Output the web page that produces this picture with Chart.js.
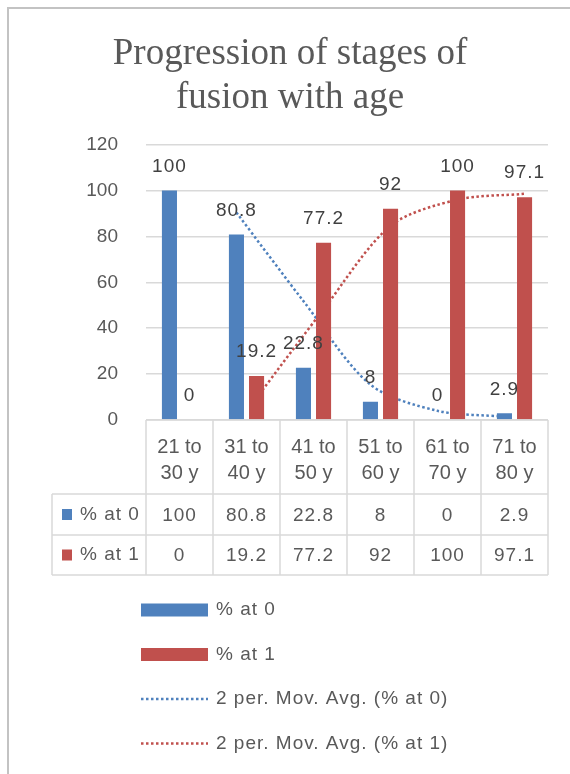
<!DOCTYPE html>
<html><head><meta charset="utf-8">
<script src="https://cdn.jsdelivr.net/npm/chart.js@4.4.0/dist/chart.umd.min.js"></script>
<style>html,body{margin:0;padding:0;background:#fff}canvas{display:block}</style>
</head><body>
<canvas id="c" width="570" height="774"></canvas>
<script>
// ---- data ----
const categories = ['21 to 30 y', '31 to 40 y', '41 to 50 y', '51 to 60 y', '61 to 70 y', '71 to 80 y'];
const seriesNames = ['% at 0', '% at 1'];
const pctAt0 = [100, 80.8, 22.8, 8, 0, 2.9];
const pctAt1 = [0, 19.2, 77.2, 92, 100, 97.1];
const movAvgNames = ['2 per. Mov. Avg. (% at 0)', '2 per. Mov. Avg. (% at 1)'];
const movAvg0 = [null, 90.4, 51.8, 15.4, 4, 1.45];
const movAvg1 = [null, 9.6, 48.2, 84.6, 96, 98.55];
const yTicks = [0, 20, 40, 60, 80, 100, 120];
const titleLines = ['Progression of stages of', 'fusion with age'];

// ---- styles ----
const BLUE = '#4F81BD', RED = '#C0504D';
const SANS = "'Liberation Sans', Arial, sans-serif";
const TEXT = '#595959', LABEL = '#404040', GRID = '#d9d9d9';

const alignPlugin = {
  id: 'alignLines',
  afterDatasetsUpdate(chart) {
    [[2, 0], [3, 1]].forEach(([li, bi]) => {
      const lm = chart.getDatasetMeta(li), bm = chart.getDatasetMeta(bi);
      lm.data.forEach((p, i) => { p.x = bm.data[i].x; });
      lm.dataset.points = lm.data;
      lm.dataset.updateControlPoints(chart.chartArea, 'x');
    });
  }
};

const decorPlugin = {
  id: 'decor',
  beforeDraw(chart) {
    const ctx = chart.ctx;
    ctx.save();
    ctx.fillStyle = '#fff';
    ctx.fillRect(0, 0, chart.width, chart.height);
    ctx.strokeStyle = '#c3c3c3';
    ctx.lineWidth = 2;
    ctx.beginPath();
    ctx.moveTo(8, chart.height); ctx.lineTo(8, 8); ctx.lineTo(chart.width, 8);
    ctx.stroke();
    ctx.restore();
  },
  afterDatasetsDraw(chart) {
    const ctx = chart.ctx;
    ctx.save();
    ctx.font = '19px ' + SANS;
    ctx.fillStyle = LABEL;
    ctx.textAlign = 'center';
    ctx.textBaseline = 'middle';
    try { ctx.letterSpacing = '1px'; } catch (e) {}
    [0, 1].forEach(di => {
      const meta = chart.getDatasetMeta(di);
      const vals = chart.data.datasets[di].data;
      meta.data.forEach((el, i) => {
        ctx.fillText(String(vals[i]), el.x, el.y - 24);
      });
    });
    ctx.restore();
  },
  afterDraw(chart) {
    const ctx = chart.ctx, a = chart.chartArea, x = chart.scales.x;
    const n = categories.length, w = (x.right - x.left) / n;
    const top = a.bottom, r0 = top + 74, r1 = r0 + 41, r2 = r1 + 40, keyLeft = 52;
    ctx.save();
    // table grid
    ctx.strokeStyle = GRID; ctx.lineWidth = 1.5;
    ctx.beginPath();
    ctx.moveTo(x.left, top); ctx.lineTo(x.right, top);
    [r0, r1, r2].forEach(y => { ctx.moveTo(keyLeft, y); ctx.lineTo(x.right, y); });
    for (let i = 0; i <= n; i++) { const xx = x.left + i * w; ctx.moveTo(xx, top); ctx.lineTo(xx, r2); }
    ctx.moveTo(keyLeft, r0); ctx.lineTo(keyLeft, r2);
    ctx.stroke();
    // table rows
    ctx.font = '19px ' + SANS;
    ctx.textBaseline = 'middle';
    try { ctx.letterSpacing = '1px'; } catch (e) {}
    const rows = [[r0, r1], [r1, r2]];
    rows.forEach(([ya, yb], ri) => {
      const ds = chart.data.datasets[ri];
      const yc = (ya + yb) / 2;
      ctx.fillStyle = ds.backgroundColor;
      ctx.fillRect(keyLeft + 10, yc - 5.5, 10, 11);
      ctx.fillStyle = TEXT;
      ctx.textAlign = 'left';
      ctx.fillText(ds.label, keyLeft + 28, yc);
      ctx.textAlign = 'center';
      ds.data.forEach((v, i) => ctx.fillText(String(v), x.getPixelForTick(i), yc + 1));
    });
    // legend
    const lx = 141, lw = 67, ly0 = 610, step = 44.5;
    chart.data.datasets.forEach((ds, i) => {
      const yc = ly0 + i * step;
      if (ds.type === 'line') {
        ctx.strokeStyle = ds.borderColor;
        ctx.lineWidth = ds.borderWidth;
        ctx.setLineDash(ds.borderDash);
        ctx.beginPath(); ctx.moveTo(lx, yc); ctx.lineTo(lx + lw, yc); ctx.stroke();
        ctx.setLineDash([]);
      } else {
        ctx.fillStyle = ds.backgroundColor;
        ctx.fillRect(lx, yc - 6.5, lw, 13);
      }
      ctx.fillStyle = TEXT;
      ctx.textAlign = 'left';
      ctx.fillText(ds.label, lx + lw + 8, yc);
    });
    ctx.restore();
  }
};

new Chart(document.getElementById('c'), {
  type: 'bar',
  data: {
    labels: categories,
    datasets: [
      { label: seriesNames[0], data: pctAt0, backgroundColor: BLUE, order: 1,
        categoryPercentage: 0.6, barPercentage: 0.75 },
      { label: seriesNames[1], data: pctAt1, backgroundColor: RED, order: 1,
        categoryPercentage: 0.6, barPercentage: 0.75 },
      { type: 'line', label: movAvgNames[0], data: movAvg0, borderColor: BLUE, borderWidth: 2.5,
        borderDash: [2.5, 2.5], pointRadius: 0, tension: 0.3, fill: false, order: 5 },
      { type: 'line', label: movAvgNames[1], data: movAvg1, borderColor: RED, borderWidth: 2.5,
        borderDash: [2.5, 2.5], pointRadius: 0, tension: 0.3, fill: false, order: 5 }
    ]
  },
  options: {
    responsive: false,
    devicePixelRatio: 1,
    animation: false,
    layout: { padding: { top: 0, left: 32, right: 22, bottom: 199 } },
    plugins: {
      legend: { display: false },
      tooltip: { enabled: false },
      title: {
        display: true, text: titleLines, color: TEXT,
        font: { family: "'Liberation Serif', 'Times New Roman', serif", size: 37, weight: 'normal', lineHeight: 1.17 },
        padding: { top: 33, bottom: 25 }
      }
    },
    scales: {
      x: {
        grid: { display: false, drawTicks: false },
        border: { display: false },
        ticks: {
          color: TEXT, font: { family: SANS, size: 20, lineHeight: 1.3 }, padding: 14,
          maxRotation: 0, autoSkip: false,
          callback: function (v) { return this.getLabelForValue(v).split(/(?<=to) /); }
        },
        afterFit(s) { s.height = 155; }
      },
      y: {
        min: yTicks[0], max: yTicks[yTicks.length - 1],
        grid: { color: GRID, lineWidth: 1.5, drawTicks: false },
        border: { display: false },
        ticks: { stepSize: yTicks[1] - yTicks[0], color: TEXT, font: { family: SANS, size: 19 }, padding: 28 },
        afterFit(s) { s.width = 114; }
      }
    }
  },
  plugins: [alignPlugin, decorPlugin]
});
</script>
</body></html>
